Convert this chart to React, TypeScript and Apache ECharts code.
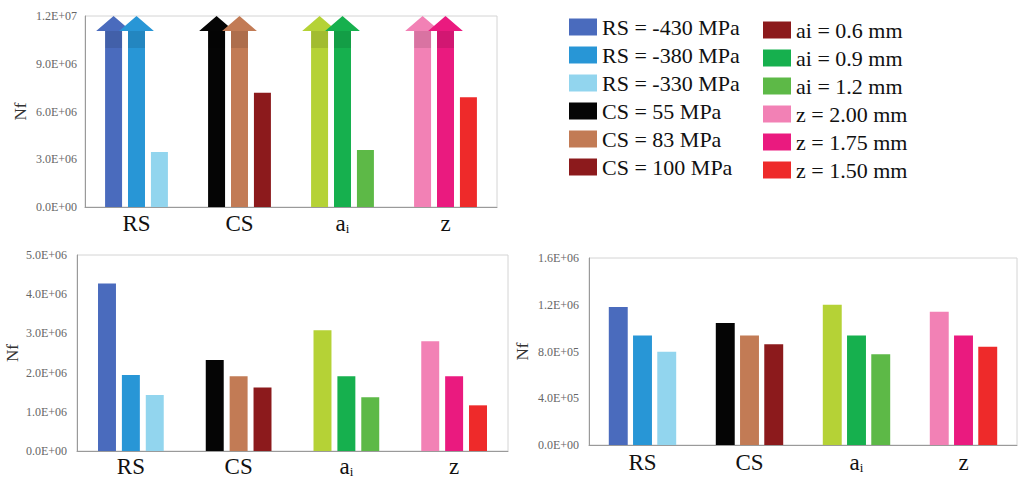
import React, { useEffect, useRef } from 'react';
import * as echarts from 'echarts';

// ---------- data ----------
const categories = ['RS', 'CS', 'ai', 'z'];

const seriesNames = [
  'RS = -430 MPa', 'RS = -380 MPa', 'RS = -330 MPa',
  'CS = 55 MPa', 'CS = 83 MPa', 'CS = 100 MPa',
  'ai = 0.6 mm', 'ai = 0.9 mm', 'ai = 1.2 mm',
  'z = 2.00 mm', 'z = 1.75 mm', 'z = 1.50 mm',
];

const barColors = [
  '#4a6bbd', '#2896d6', '#92d5ee',
  '#050505', '#c27b55', '#8c1a1c',
  '#b5d236', '#16b04e', '#5db947',
  '#f281b5', '#ea1a7f', '#ee2a2a',
];

// legend swatch colours as printed in the figure (ai = 0.6 mm shown dark red)
const legendColors = [
  '#4a6bbd', '#2896d6', '#92d5ee',
  '#050505', '#c27b55', '#8c1a1c',
  '#8c1a1c', '#16b04e', '#5db947',
  '#f281b5', '#ea1a7f', '#ee2a2a',
];

// top chart (runouts marked with arrows, drawn at the axis maximum)
const topNf = [
  1.2e7, 1.2e7, 3.45e6,
  1.2e7, 1.2e7, 7.18e6,
  1.2e7, 1.2e7, 3.58e6,
  1.2e7, 1.2e7, 6.89e6,
];
const topRunout = [
  true, true, false,
  true, true, false,
  true, true, false,
  true, true, false,
];

// bottom-left chart
const leftNf = [
  4.27e6, 1.94e6, 1.43e6,
  2.32e6, 1.91e6, 1.62e6,
  3.08e6, 1.91e6, 1.37e6,
  2.80e6, 1.91e6, 1.165e6,
];

// bottom-right chart
const rightNf = [
  1.18e6, 0.937e6, 0.797e6,
  1.043e6, 0.937e6, 0.863e6,
  1.2e6, 0.937e6, 0.777e6,
  1.14e6, 0.937e6, 0.84e6,
];

// y axis tick settings [max, interval]
const topAxis = [1.2e7, 3e6];
const leftAxis = [5e6, 1e6];
const rightAxis = [1.6e6, 4e5];

// ---------- helpers ----------
const SERIF = 'Liberation Serif';

const sci = (v: number) => {
  const [m, e] = v.toExponential(1).split('e');
  const n = parseInt(e, 10);
  return m + 'E' + (n < 0 ? '-' : '+') + String(Math.abs(n)).padStart(2, '0');
};

const grids = [
  { left: 85, top: 16, width: 412, height: 191 },
  { left: 77, top: 255, width: 431, height: 196 },
  { left: 589, top: 258, width: 428, height: 187 },
];
const catGaps = [0.39, 0.39, 0.37];
const barGaps = [0.35, 0.33, 0.28];
const labelMargins = [5, 4, 6];

export default function App() {
  const ref = useRef<HTMLDivElement>(null);

  useEffect(() => {
    if (!ref.current) return;
    const chart = echarts.init(ref.current, null, { renderer: 'svg' });

    const chartsData = [
      { vals: topNf, runout: topRunout, axis: topAxis },
      { vals: leftNf, runout: leftNf.map(() => false), axis: leftAxis },
      { vals: rightNf, runout: rightNf.map(() => false), axis: rightAxis },
    ];

    const xAxes: any[] = [];
    const yAxes: any[] = [];
    const series: any[] = [];

    chartsData.forEach((cd, c) => {
      xAxes.push({
        type: 'category',
        gridIndex: c,
        data: categories,
        axisTick: { show: false },
        axisLine: { lineStyle: { color: '#9a9a9a', width: 1 } },
        axisLabel: {
          interval: 0,
          margin: labelMargins[c],
          fontFamily: SERIF,
          fontSize: 23,
          color: '#111',
          formatter: (v: string) => (v === 'ai' ? '{a|a}{s|i}' : v),
          rich: {
            a: { fontFamily: SERIF, fontSize: 23, color: '#111' },
            s: { fontFamily: SERIF, fontSize: 13, color: '#111', verticalAlign: 'bottom' },
          },
        },
      });
      yAxes.push({
        type: 'value',
        gridIndex: c,
        min: 0,
        max: cd.axis[0],
        interval: cd.axis[1],
        splitLine: { show: false },
        axisTick: { show: false },
        axisLine: { show: true, lineStyle: { color: '#9a9a9a', width: 1 } },
        axisLabel: {
          formatter: sci,
          fontFamily: SERIF,
          fontSize: 12,
          color: '#666',
          margin: c === 0 ? 8 : 10,
        },
        name: 'Nf',
        nameLocation: 'middle',
        nameRotate: 90,
        nameGap: c === 2 ? 58 : 56,
        nameTextStyle: { fontFamily: SERIF, fontSize: 17, color: '#333' },
      });

      seriesNames.forEach((name, k) => {
        const cat = Math.floor(k / 3);
        const slot = k % 3;
        series.push({
          type: 'bar',
          name,
          xAxisIndex: c,
          yAxisIndex: c,
          stack: 'c' + c + 's' + slot,
          barCategoryGap: catGaps[c] * 100 + '%',
          barGap: barGaps[c] * 100 + '%',
          itemStyle: { color: barColors[k] },
          data: categories.map((_, i) => (i === cat && !cd.runout[k] ? cd.vals[k] : '-')),
        });
      });
    });

    // runout arrows on the top chart
    const arrowData: number[][] = [];
    topNf.forEach((v, k) => {
      if (topRunout[k]) arrowData.push([Math.floor(k / 3), k % 3, v, k]);
    });
    series.push({
      type: 'custom',
      name: 'runout',
      xAxisIndex: 0,
      yAxisIndex: 0,
      encode: { x: 0, y: 2 },
      data: arrowData,
      renderItem: (params: any, api: any) => {
        const cat = api.value(0);
        const slot = api.value(1);
        const val = api.value(2);
        const k = api.value(3);
        const base = api.coord([cat, 0]);
        const top = api.coord([cat, val]);
        const band = api.size([1, 0])[0];
        const bw = (band * (1 - catGaps[0])) / (3 + 2 * barGaps[0]);
        const cx = base[0] + (slot - 1) * bw * (1 + barGaps[0]);
        const headH = 15;
        const headW = bw * 2.05;
        const tipY = top[1];
        const shY = tipY + headH;
        const color = barColors[k];
        return {
          type: 'group',
          children: [
            {
              type: 'polygon',
              shape: {
                points: [
                  [cx - bw / 2, base[1]],
                  [cx - bw / 2, shY],
                  [cx - headW / 2, shY],
                  [cx, tipY],
                  [cx + headW / 2, shY],
                  [cx + bw / 2, shY],
                  [cx + bw / 2, base[1]],
                ],
              },
              style: { fill: color },
            },
            {
              type: 'rect',
              shape: { x: cx - bw / 2, y: shY, width: bw, height: 17 },
              style: { fill: 'rgba(0,0,0,0.1)' },
            },
          ],
        };
      },
    });

    const legendBase = {
      orient: 'vertical',
      icon: 'rect',
      itemWidth: 28,
      itemHeight: 17,
      itemGap: 6,
      selectedMode: false,
      textStyle: { fontFamily: SERIF, fontSize: 22, color: '#111' },
    };

    chart.setOption({
      animation: false,
      backgroundColor: '#fff',
      grid: grids.map((g) => ({
        ...g,
        show: true,
        borderColor: '#d4d4d4',
        borderWidth: 1,
        backgroundColor: 'transparent',
      })),
      xAxis: xAxes,
      yAxis: yAxes,
      legend: [
        {
          ...legendBase,
          left: 564,
          top: 11,
          data: seriesNames.slice(0, 6).map((n, i) => ({ name: n, itemStyle: { color: legendColors[i] } })),
        },
        {
          ...legendBase,
          left: 758,
          top: 14,
          data: seriesNames.slice(6).map((n, i) => ({ name: n, itemStyle: { color: legendColors[i + 6] } })),
        },
      ],
      series,
    });

    return () => chart.dispose();
  }, []);

  return (
    <div
      ref={ref}
      style={{ position: 'fixed', left: 0, top: 0, width: 1018, height: 479, background: '#fff' }}
    />
  );
}
